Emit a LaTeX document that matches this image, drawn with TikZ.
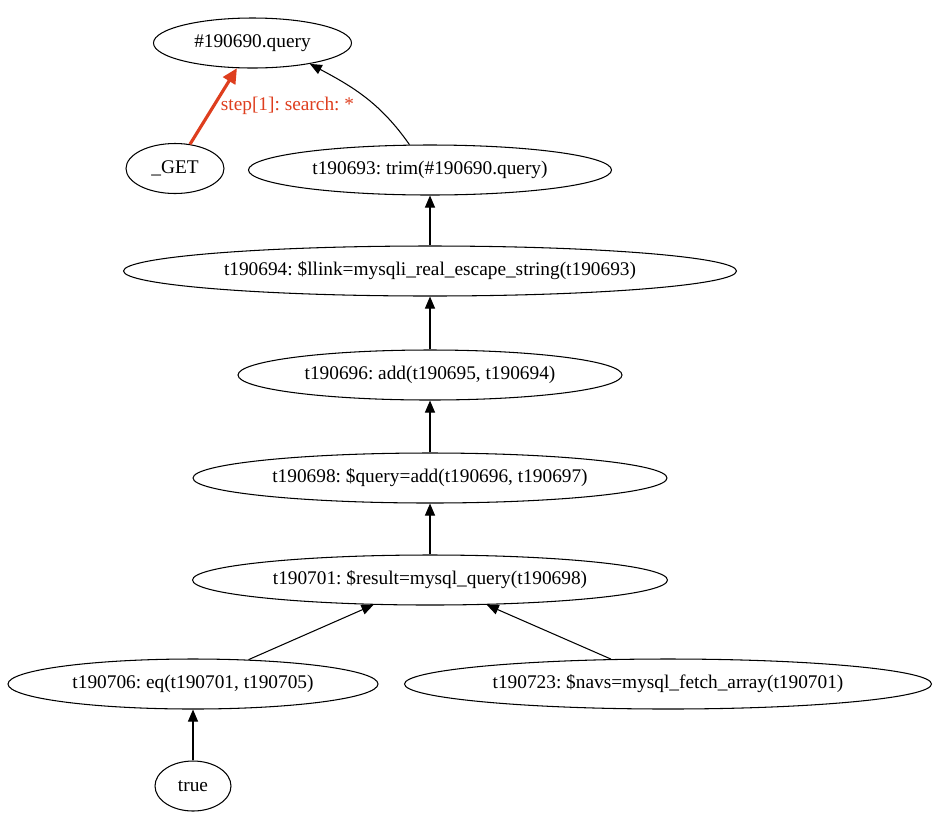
\documentclass[tikz,border=0pt]{standalone}
\usepackage{xcolor}
\usepackage{fontspec}
\setmainfont{Liberation Serif}
\usepackage{tikz}
\usetikzlibrary{shapes.geometric,arrows.meta}

\definecolor{stepred}{RGB}{222,62,30}

\begin{document}
\frenchspacing
\begin{tikzpicture}[
    vertex/.style={draw, ellipse, inner xsep=-3cm, inner ysep=0pt, minimum height=1cm, line width=0.6pt,
                   font=\fontsize{11}{13}\selectfont},
    flow/.style={line width=0.6pt, -{Triangle[length=0.24cm,width=0.2cm]}},
    hit/.style={stepred, line width=1.8pt, -{Triangle[length=0.3cm,width=0.28cm]}}
  ]
                    \useasboundingbox (0,0) rectangle (19,-16.56);

                    \node[vertex, minimum width=3.96cm] (query) at (5.05,-0.86) {\#190690.query};
                    \node[vertex, minimum width=1.96cm] (get) at (3.5,-3.37) {\_GET};
                    \node[vertex, minimum width=7.26cm] (trim) at (8.6,-3.4) {t190693: trim(\#190690.query)};
                    \node[vertex, minimum width=12.26cm] (escape) at (8.6,-5.42) {t190694: \$llink=mysqli\_real\_escape\_string(t190693)};
                    \node[vertex, minimum width=7.68cm] (addA) at (8.6,-7.5) {t190696: add(t190695, t190694)};
                    \node[vertex, minimum width=9.48cm] (addB) at (8.6,-9.56) {t190698: \$query=add(t190696, t190697)};
                    \node[vertex, minimum width=9.5cm] (result) at (8.6,-11.6) {t190701: \$result=mysql\_query(t190698)};
                    \node[vertex, minimum width=7.4cm] (eq) at (3.86,-13.68) {t190706: eq(t190701, t190705)};
                    \node[vertex, minimum width=10.54cm] (navs) at (13.36,-13.68) {t190723: \$navs=mysql\_fetch\_array(t190701)};
                    \node[vertex, minimum width=1.52cm] (true) at (3.86,-15.72) {true};

                    \draw[hit] (get) -- node[right, pos=0.5, font=\fontsize{11}{13}\selectfont] {step[1]: search: *} (query);
                    \draw[flow] (trim.129) to[out=125, in=-28] (query.-20);
                    \draw[flow] (escape) -- (trim);
                    \draw[flow] (addA) -- (escape);
                    \draw[flow] (addB) -- (addA);
                    \draw[flow] (result) -- (addB);
                    \draw[flow] (eq) -- (result);
                    \draw[flow] (navs) -- (result);
                    \draw[flow] (true) -- (eq);
                \end{tikzpicture}
\end{document}
